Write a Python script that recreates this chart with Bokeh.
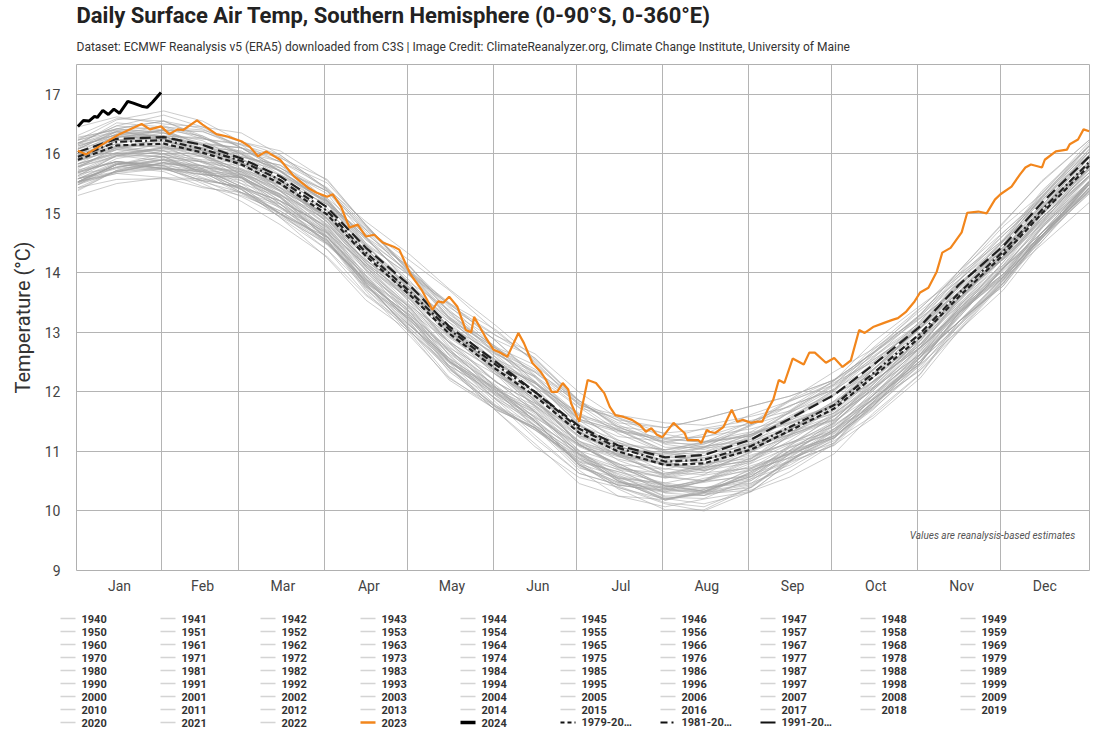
from bokeh.plotting import figure
from bokeh.layouts import column
from bokeh.models import Range1d, FixedTicker, Label, Title
from bokeh.core.properties import value
from bokeh.embed import file_html
from bokeh.resources import INLINE

title_text = "Daily Surface Air Temp, Southern Hemisphere (0-90°S, 0-360°E)"
subtitle_text = ("Dataset: ECMWF Reanalysis v5 (ERA5) downloaded from C3S | Image Credit: "
                 "ClimateReanalyzer.org, Climate Change Institute, University of Maine")
note_text = "Values are reanalysis-based estimates"

months = ["Jan", "Feb", "Mar", "Apr", "May", "Jun", "Jul", "Aug", "Sep", "Oct", "Nov", "Dec"]
month_mid = [16, 46, 75, 106, 136, 167, 197, 228, 259, 289, 320, 350]
month_start = [31, 59, 90, 120, 151, 181, 212, 243, 273, 304, 334]
y_ticks = [9, 10, 11, 12, 13, 14, 15, 16, 17]

# day-of-year sample points for the gray (historical) years
gray_days = [1, 15, 32, 46, 60, 74, 91, 105, 121, 135, 152, 166, 182, 196, 213, 227, 244, 258, 274, 288, 305, 319, 335, 349, 366]

y1940 = [15.53,15.85,15.75,15.55,15.45,15.20,14.60,13.77,13.06,12.49,12.01,11.52,10.77,10.39,10.20,10.31,10.64,10.94,11.26,11.74,12.52,13.33,13.98,14.58,15.51]
y1941 = [15.51,15.82,15.95,15.87,15.63,15.21,14.59,14.00,13.41,12.68,11.93,11.43,10.96,10.73,10.57,10.50,10.58,10.97,11.47,12.06,12.63,13.25,14.08,14.83,15.53]
y1942 = [15.70,15.87,15.75,15.70,15.60,15.16,14.51,13.89,13.33,12.68,12.06,11.51,10.77,10.43,10.35,10.50,10.71,10.96,11.23,11.76,12.58,13.28,14.08,14.80,15.48]
y1943 = [15.40,15.72,15.85,15.72,15.40,15.00,14.39,13.64,13.10,12.52,11.87,11.27,10.63,10.44,10.33,10.39,10.47,10.73,11.15,11.86,12.59,13.18,13.78,14.58,15.33]
y1944 = [15.71,15.99,15.95,15.67,15.43,15.21,14.79,14.03,13.24,12.51,12.03,11.73,11.01,10.55,10.37,10.55,10.68,10.90,11.34,12.02,12.75,13.38,13.95,14.61,15.48]
y1945 = [15.53,15.70,15.85,15.80,15.55,15.11,14.49,13.84,13.28,12.71,12.01,11.41,10.89,10.70,10.30,10.26,10.66,11.06,11.33,11.78,12.63,13.40,13.98,14.63,15.38]
y1946 = [15.58,15.84,15.75,15.55,15.28,14.95,14.49,13.86,13.22,12.42,11.72,11.37,10.87,10.54,10.21,10.12,10.32,10.83,11.30,11.81,12.37,13.06,13.88,14.68,15.43]
y1947 = [15.53,15.82,15.95,15.73,15.40,15.00,14.55,13.72,13.11,12.57,12.04,11.49,10.74,10.46,10.38,10.31,10.39,10.84,11.38,11.87,12.47,13.31,14.05,14.63,15.48]
y1948 = [15.58,15.77,15.92,15.70,15.35,14.98,14.60,13.94,13.16,12.41,11.74,11.39,10.92,10.51,10.18,10.36,10.69,10.89,11.14,11.82,12.62,13.18,13.83,14.68,15.53]
y1949 = [15.43,15.57,15.58,15.55,15.45,15.11,14.53,13.69,12.93,12.23,11.75,11.40,10.83,10.42,10.14,10.07,10.40,10.88,11.23,11.70,12.46,13.03,13.71,14.53,15.43]
y1950 = [15.38,15.72,15.77,15.50,15.20,14.81,14.27,13.62,13.06,12.40,11.68,11.13,10.46,10.25,10.07,10.20,10.33,10.57,10.96,11.64,12.30,13.18,13.90,14.48,15.18]
y1951 = [15.53,15.69,15.85,15.75,15.45,15.00,14.50,13.87,13.26,12.49,11.77,11.36,10.87,10.63,10.36,10.31,10.44,10.84,11.26,11.90,12.52,13.13,13.88,14.68,15.35]
y1952 = [15.70,15.87,15.80,15.58,15.42,15.16,14.69,13.84,13.11,12.51,12.06,11.66,10.89,10.50,10.20,10.33,10.71,11.01,11.25,11.76,12.58,13.36,13.93,14.58,15.48]
y1953 = [15.51,15.82,16.00,15.75,15.45,15.21,14.77,13.95,13.19,12.51,11.93,11.58,11.08,10.80,10.42,10.33,10.58,11.02,11.49,12.06,12.63,13.33,13.93,14.61,15.53]
y1954 = [15.51,15.67,15.60,15.43,15.35,15.04,14.53,13.81,13.03,12.25,11.70,11.40,10.80,10.37,10.02,10.02,10.40,10.86,11.18,11.60,12.29,13.13,13.93,14.53,15.38]
y1955 = [15.30,15.50,15.60,15.58,15.42,14.93,14.25,13.54,13.01,12.40,11.68,11.08,10.56,10.40,10.12,10.00,10.33,10.81,11.11,11.56,12.23,13.03,13.86,14.60,15.33]
y1956 = [15.48,15.79,15.70,15.45,15.30,15.04,14.55,13.74,12.98,12.20,11.70,11.40,10.68,10.25,10.19,10.29,10.35,10.66,11.13,11.80,12.36,13.01,13.83,14.58,15.43]
y1957 = [15.48,15.70,15.85,15.75,15.62,15.26,14.61,13.79,13.11,12.56,12.06,11.51,10.77,10.48,10.35,10.50,10.76,10.96,11.23,11.83,12.68,13.40,13.98,14.58,15.43]
y1958 = [15.68,15.87,15.80,15.72,15.65,15.37,14.73,14.12,13.41,12.62,11.95,11.60,11.11,10.77,10.39,10.52,10.90,11.14,11.34,11.95,12.74,13.30,13.96,14.78,15.53]
y1959 = [15.53,15.82,15.73,15.65,15.60,15.28,14.56,13.77,13.23,12.64,12.11,11.56,10.79,10.58,10.45,10.33,10.46,10.96,11.45,11.88,12.48,13.33,14.08,14.63,15.38]
y1960 = [15.68,15.87,15.75,15.65,15.60,15.16,14.49,13.89,13.38,12.61,11.86,11.51,10.99,10.53,10.20,10.30,10.61,11.08,11.38,11.76,12.48,13.33,14.10,14.68,15.53]
y1961 = [15.73,15.87,15.78,15.65,15.60,15.21,14.77,14.07,13.29,12.53,12.03,11.63,11.11,10.75,10.42,10.33,10.58,11.02,11.49,12.06,12.73,13.33,13.91,14.63,15.53]
y1962 = [15.66,15.77,15.90,15.80,15.50,15.08,14.61,13.94,13.33,12.56,11.88,11.39,10.84,10.66,10.47,10.38,10.51,10.91,11.38,11.98,12.58,13.18,13.93,14.76,15.48]
y1963 = [15.63,15.97,15.95,15.67,15.55,15.33,14.75,13.90,13.19,12.68,12.18,11.66,10.96,10.50,10.32,10.50,10.80,11.07,11.31,11.94,12.71,13.45,14.08,14.68,15.41]
y1964 = [15.48,15.84,15.85,15.60,15.40,14.93,14.39,13.76,13.20,12.54,11.82,11.22,10.63,10.44,10.31,10.36,10.57,10.83,11.10,11.76,12.57,13.18,13.78,14.63,15.50]
y1965 = [15.53,15.82,15.75,15.70,15.62,15.26,14.56,13.79,13.23,12.71,12.08,11.51,10.77,10.48,10.40,10.48,10.61,10.84,11.23,11.83,12.58,13.40,14.08,14.68,15.40]
y1966 = [15.58,15.75,15.82,15.80,15.67,15.29,14.62,13.83,13.29,12.73,11.98,11.48,11.01,10.80,10.42,10.33,10.63,11.10,11.51,11.94,12.51,13.25,14.08,14.85,15.61]
y1967 = [15.53,15.82,15.90,15.87,15.60,15.11,14.67,14.05,13.34,12.51,11.98,11.70,10.96,10.55,10.47,10.60,10.73,10.97,11.27,11.89,12.68,13.43,14.03,14.61,15.48]
y1968 = [15.58,15.87,15.80,15.53,15.35,15.15,14.65,13.82,13.01,12.37,11.89,11.54,10.94,10.51,10.18,10.31,10.66,10.99,11.26,11.72,12.40,13.18,13.93,14.75,15.53]
y1969 = [15.83,16.02,16.17,15.98,15.65,15.43,14.97,14.10,13.34,12.84,12.34,11.74,11.09,10.91,10.78,10.74,10.84,11.12,11.59,12.02,12.75,13.56,14.33,14.93,15.68]
y1970 = [15.68,15.97,15.88,15.77,15.70,15.27,14.67,14.13,13.57,12.77,12.07,11.77,11.18,10.74,10.41,10.51,10.87,11.25,11.52,12.16,12.79,13.35,13.98,14.78,15.63]
y1971 = [15.43,15.72,15.90,15.70,15.35,15.10,14.67,13.82,13.01,12.44,11.99,11.44,10.72,10.56,10.43,10.39,10.54,10.77,11.21,11.94,12.62,13.18,13.81,14.63,15.38]
y1972 = [15.63,15.97,16.12,15.95,15.60,15.32,14.69,13.96,13.42,12.87,12.17,11.67,10.95,10.69,10.56,10.71,10.92,11.15,11.42,11.94,12.64,13.43,14.25,14.93,15.63]
y1973 = [15.75,16.12,16.05,15.85,15.75,15.51,14.91,14.16,13.45,12.91,12.39,11.98,11.29,10.85,10.58,10.73,11.06,11.33,11.60,12.08,12.85,13.63,14.28,14.85,15.73]
y1974 = [15.53,15.67,15.75,15.73,15.45,14.98,14.47,13.87,13.26,12.44,11.74,11.36,10.82,10.66,10.38,10.26,10.42,10.84,11.34,11.82,12.44,13.11,13.88,14.68,15.55]
y1975 = [15.58,15.70,15.75,15.70,15.50,15.28,14.71,13.89,13.13,12.44,11.96,11.66,11.01,10.58,10.25,10.26,10.51,10.96,11.43,11.88,12.48,13.28,14.08,14.63,15.36]
y1976 = [15.58,15.77,15.90,15.65,15.33,15.00,14.60,13.92,13.16,12.34,11.77,11.44,10.94,10.61,10.23,10.21,10.54,11.01,11.36,11.87,12.52,13.11,13.83,14.63,15.51]
y1977 = [15.83,16.14,16.13,15.85,15.58,15.30,14.90,14.27,13.49,12.74,12.29,11.89,11.12,10.71,10.63,10.78,10.94,11.14,11.47,12.12,12.92,13.56,14.13,14.76,15.60]
y1978 = [15.88,16.07,16.05,15.78,15.65,15.48,14.85,14.05,13.44,12.96,12.29,11.67,11.17,10.96,10.58,10.51,10.84,11.27,11.71,12.17,12.75,13.38,14.18,15.00,15.73]
y1979 = [15.78,15.97,16.10,16.07,15.85,15.38,14.81,14.21,13.70,13.03,12.31,11.76,11.12,10.93,10.80,10.73,10.84,11.18,11.65,12.28,12.97,13.58,14.23,14.81,15.63]
y1980 = [15.98,16.24,16.15,15.95,15.68,15.39,14.97,14.38,13.74,12.98,12.28,11.93,11.43,11.10,10.77,10.68,10.88,11.35,11.82,12.29,12.81,13.46,14.28,15.08,15.83]
y1981 = [15.88,16.17,16.30,16.08,15.75,15.39,14.97,14.18,13.57,13.06,12.53,11.98,11.23,10.95,10.87,10.80,10.88,11.30,11.84,12.29,12.86,13.66,14.40,14.98,15.83]
y1982 = [15.88,16.07,16.22,16.00,15.65,15.31,14.96,14.33,13.55,12.83,12.16,11.81,11.34,10.93,10.60,10.78,11.11,11.28,11.53,12.18,12.95,13.48,14.13,14.98,15.83]
y1983 = [15.98,16.12,16.13,16.10,16.00,15.72,15.19,14.41,13.65,13.00,12.52,12.17,11.60,11.19,10.91,10.84,11.17,11.60,11.95,12.36,13.07,13.58,14.26,15.08,15.98]
y1984 = [15.78,16.10,16.00,15.80,15.70,15.48,14.90,14.10,13.39,12.84,12.36,11.87,11.12,10.74,10.55,10.66,10.99,11.27,11.59,12.04,12.80,13.58,14.23,14.83,15.76]
y1985 = [15.61,15.92,16.05,15.97,15.73,15.32,14.71,14.13,13.54,12.82,12.07,11.57,11.10,10.87,10.71,10.64,10.72,11.10,11.60,12.18,12.74,13.35,14.18,14.93,15.63]
y1986 = [15.95,16.12,16.00,15.95,15.85,15.43,14.81,14.21,13.65,13.03,12.41,11.86,11.12,10.78,10.70,10.85,11.06,11.28,11.55,12.06,12.85,13.53,14.33,15.05,15.73]
y1987 = [15.90,16.22,16.35,16.22,15.90,15.55,14.99,14.29,13.75,13.22,12.57,11.97,11.33,11.14,11.03,11.09,11.17,11.38,11.80,12.46,13.14,13.68,14.28,15.08,15.83]
y1988 = [16.01,16.29,16.25,15.97,15.73,15.54,15.15,14.42,13.63,12.93,12.45,12.15,11.43,10.97,10.79,10.97,11.10,11.29,11.73,12.38,13.08,13.68,14.25,14.91,15.78]
y1989 = [15.78,15.95,16.10,16.05,15.80,15.38,14.79,14.16,13.60,13.06,12.36,11.76,11.24,11.05,10.65,10.61,11.01,11.38,11.65,12.08,12.90,13.65,14.23,14.88,15.63]
y1990 = [16.03,16.34,16.25,16.00,15.85,15.65,15.21,14.46,13.70,12.97,12.47,12.17,11.45,11.02,10.96,11.06,11.12,11.38,11.85,12.46,12.97,13.56,14.38,15.13,15.98]
y1991 = [15.88,16.10,16.25,16.15,16.02,15.70,15.09,14.31,13.63,13.12,12.62,12.07,11.33,11.04,10.91,11.06,11.32,11.48,11.75,12.31,13.12,13.80,14.38,14.98,15.83]
y1992 = [15.83,16.02,15.95,15.87,15.80,15.53,14.91,14.31,13.60,12.83,12.16,11.81,11.32,10.98,10.60,10.73,11.11,11.33,11.53,12.13,12.90,13.45,14.11,14.93,15.68]
y1993 = [15.78,16.07,15.98,15.90,15.85,15.55,14.86,14.09,13.55,12.99,12.46,11.91,11.14,10.93,10.80,10.68,10.81,11.28,11.77,12.18,12.75,13.58,14.33,14.88,15.63]
y1994 = [15.88,16.22,16.27,16.00,15.70,15.37,14.87,14.28,13.72,13.10,12.38,11.83,11.16,10.95,10.77,10.90,11.03,11.23,11.62,12.24,12.86,13.68,14.40,14.98,15.68]
y1995 = [15.93,16.09,16.25,16.15,15.85,15.44,14.98,14.39,13.78,13.05,12.33,11.92,11.43,11.19,10.92,10.87,11.00,11.36,11.78,12.38,12.96,13.53,14.28,15.08,15.75]
y1996 = [16.00,16.17,16.10,15.88,15.72,15.49,15.05,14.23,13.50,12.93,12.48,12.08,11.31,10.92,10.62,10.75,11.13,11.40,11.64,12.12,12.91,13.66,14.23,14.88,15.78]
y1997 = [15.91,16.22,16.40,16.15,15.85,15.65,15.25,14.47,13.71,13.07,12.49,12.14,11.64,11.36,10.98,10.89,11.14,11.54,12.01,12.54,13.07,13.73,14.33,15.01,15.93]
y1998 = [16.26,16.42,16.35,16.18,16.10,15.87,15.43,14.79,14.01,13.30,12.75,12.45,11.85,11.42,11.07,11.07,11.45,11.84,12.16,12.50,13.12,13.88,14.68,15.28,16.13]
y1999 = [15.80,16.00,16.10,16.08,15.92,15.49,14.85,14.20,13.67,13.10,12.38,11.78,11.26,11.10,10.82,10.70,11.03,11.47,11.77,12.16,12.79,13.53,14.36,15.10,15.83]
y2000 = [15.83,16.00,16.07,16.05,15.92,15.57,14.92,14.16,13.62,13.08,12.33,11.83,11.36,11.15,10.77,10.68,10.98,11.43,11.84,12.24,12.79,13.50,14.33,15.10,15.86]
y2001 = [15.93,16.22,16.30,16.27,16.00,15.55,15.15,14.57,13.86,13.07,12.54,12.26,11.52,11.11,11.03,11.16,11.29,11.49,11.79,12.37,13.12,13.83,14.43,15.01,15.88]
y2002 = [16.18,16.47,16.40,16.13,15.95,15.81,15.37,14.60,13.79,13.21,12.73,12.38,11.78,11.35,11.02,11.15,11.50,11.77,12.04,12.44,13.06,13.78,14.53,15.35,16.13]
y2003 = [16.13,16.32,16.47,16.28,15.95,15.76,15.33,14.49,13.73,13.26,12.76,12.16,11.51,11.33,11.20,11.16,11.26,11.51,11.98,12.38,13.08,13.86,14.63,15.23,15.98]
y2004 = [16.13,16.32,16.20,16.10,16.05,15.65,15.03,14.47,13.96,13.24,12.49,12.14,11.62,11.16,10.83,10.93,11.24,11.66,11.96,12.30,12.97,13.78,14.55,15.13,15.98]
y2005 = [16.23,16.37,16.28,16.15,16.10,15.76,15.37,14.72,13.94,13.23,12.73,12.33,11.81,11.45,11.12,11.03,11.28,11.67,12.14,12.66,13.28,13.83,14.41,15.13,16.03]
y2006 = [16.16,16.27,16.40,16.30,16.00,15.63,15.21,14.59,13.98,13.26,12.58,12.09,11.54,11.36,11.17,11.08,11.21,11.56,12.03,12.58,13.13,13.68,14.43,15.26,15.98]
y2007 = [15.98,16.32,16.30,16.02,15.90,15.72,15.17,14.36,13.65,13.17,12.67,12.15,11.45,10.99,10.81,10.99,11.29,11.53,11.77,12.36,13.10,13.80,14.43,15.03,15.76]
y2008 = [15.93,16.29,16.30,16.05,15.85,15.42,14.93,14.34,13.78,13.17,12.45,11.85,11.26,11.07,10.94,10.99,11.20,11.41,11.68,12.30,13.06,13.63,14.23,15.08,15.95]
y2009 = [16.08,16.37,16.30,16.25,16.17,15.86,15.22,14.50,13.94,13.48,12.85,12.28,11.54,11.25,11.17,11.25,11.38,11.55,11.94,12.49,13.18,13.95,14.63,15.23,15.95]
y2010 = [16.23,16.42,16.55,16.30,15.98,15.72,15.38,14.77,14.01,13.25,12.68,12.35,11.85,11.52,11.14,11.12,11.45,11.86,12.21,12.65,13.24,13.76,14.48,15.28,16.16]
y2011 = [16.08,16.39,16.38,16.10,15.83,15.57,15.20,14.59,13.81,13.09,12.64,12.24,11.47,11.06,10.98,11.13,11.29,11.46,11.79,12.42,13.19,13.81,14.38,15.01,15.85]
y2012 = [16.18,16.37,16.35,16.08,15.95,15.81,15.21,14.44,13.83,13.38,12.71,12.09,11.59,11.38,11.00,10.93,11.26,11.66,12.10,12.53,13.08,13.68,14.48,15.30,16.03]
y2013 = [16.08,16.27,16.40,16.37,16.15,15.71,15.17,14.60,14.09,13.45,12.73,12.18,11.54,11.35,11.22,11.15,11.26,11.57,12.04,12.64,13.30,13.88,14.53,15.11,15.93]
y2014 = [16.08,16.37,16.28,16.17,16.10,15.71,15.15,14.65,14.09,13.33,12.63,12.33,11.74,11.30,10.97,11.07,11.43,11.77,12.04,12.64,13.23,13.75,14.38,15.18,16.03]
y2015 = [16.18,16.47,16.65,16.45,16.10,15.93,15.57,14.80,13.99,13.49,13.04,12.49,11.77,11.61,11.48,11.44,11.59,11.75,12.19,12.84,13.45,13.93,14.56,15.38,16.13]
y2016 = [16.23,16.57,16.72,16.55,16.20,15.98,15.41,14.74,14.20,13.71,13.01,12.51,11.79,11.53,11.40,11.55,11.76,11.93,12.20,12.66,13.30,14.03,14.85,15.53,16.23]
y2017 = [16.15,16.52,16.45,16.25,16.15,15.95,15.39,14.68,13.97,13.47,12.95,12.54,11.85,11.41,11.14,11.29,11.62,11.85,12.12,12.56,13.29,14.03,14.68,15.25,16.13]
y2018 = [16.18,16.32,16.40,16.38,16.10,15.70,15.25,14.72,14.11,13.35,12.65,12.27,11.73,11.57,11.29,11.17,11.33,11.69,12.19,12.60,13.16,13.76,14.53,15.33,16.20]
y2019 = [16.28,16.40,16.45,16.40,16.20,16.05,15.55,14.80,14.04,13.42,12.94,12.64,11.99,11.56,11.23,11.24,11.49,11.87,12.34,12.72,13.25,13.98,14.78,15.33,16.06]
y2020 = [16.45,16.62,16.50,16.45,16.35,15.98,15.41,14.86,14.30,13.73,13.11,12.56,11.82,11.48,11.40,11.55,11.76,11.93,12.20,12.66,13.40,14.03,14.83,15.55,16.23]
y2021 = [16.10,16.42,16.55,16.42,16.10,15.77,15.23,14.55,14.01,13.50,12.85,12.25,11.61,11.42,11.31,11.37,11.45,11.64,12.06,12.70,13.36,13.88,14.48,15.28,16.03]
y2022 = [16.31,16.59,16.55,16.27,16.03,15.87,15.51,14.81,14.02,13.35,12.87,12.57,11.85,11.39,11.21,11.39,11.52,11.68,12.12,12.74,13.41,13.98,14.55,15.21,16.08]

# 2023 (orange)
d2023 = [1, 4, 16, 24, 27, 31, 34, 37, 39, 44, 46, 51, 55, 60, 63, 66, 69, 74, 79, 84, 87, 91, 93, 96, 99,
         102, 105, 108, 111, 115, 117, 121, 125, 129, 131, 133, 135, 138, 141, 143, 144, 148, 151, 153, 156,
         160, 162, 165, 168, 170, 172, 174, 176, 178, 179, 182, 183, 185, 188, 191, 193, 195, 198, 201, 204,
         206, 208, 210, 212, 216, 218, 220, 221, 225, 226, 228, 229, 231, 234, 237, 239, 241, 244, 246, 248,
         250, 252, 254, 256, 259, 263, 265, 267, 271, 274, 277, 280, 283, 285, 288, 292, 295, 297, 300, 303,
         305, 308, 311, 313, 316, 320, 322, 326, 329, 332, 334, 338, 341, 343, 345, 349, 350, 354, 358, 359,
         362, 364, 366]
t2023 = [16.05, 15.99, 16.33, 16.50, 16.41, 16.46, 16.33, 16.41, 16.40, 16.56, 16.49, 16.33, 16.29, 16.21, 16.12,
         15.96, 16.04, 15.90, 15.62, 15.43, 15.35, 15.28, 15.32, 15.11, 14.76, 14.81, 14.61, 14.64, 14.51, 14.44,
         14.39, 13.98, 13.72, 13.38, 13.52, 13.50, 13.60, 13.43, 13.04, 13.00, 13.26, 12.93, 12.71, 12.67, 12.59,
         12.99, 12.82, 12.49, 12.34, 12.20, 12.00, 12.00, 12.15, 12.04, 11.81, 11.50, 11.75, 12.20, 12.15, 11.98,
         11.75, 11.61, 11.58, 11.53, 11.44, 11.33, 11.39, 11.28, 11.24, 11.48, 11.39, 11.31, 11.19, 11.19, 11.14,
         11.36, 11.33, 11.31, 11.41, 11.70, 11.50, 11.53, 11.48, 11.50, 11.50, 11.70, 11.87, 12.20, 12.15, 12.56,
         12.46, 12.66, 12.66, 12.49, 12.57, 12.42, 12.53, 13.04, 12.99, 13.09, 13.16, 13.21, 13.24, 13.35, 13.52,
         13.67, 13.75, 14.02, 14.34, 14.42, 14.68, 15.01, 15.03, 15.00, 15.23, 15.32, 15.45, 15.65, 15.77, 15.82,
         15.77, 15.90, 16.04, 16.07, 16.16, 16.24, 16.41, 16.38]

# 2024 (black), January only
d2024 = [1, 3, 5, 7, 8, 10, 12, 14, 16, 19, 21, 24, 26, 28, 31]
t2024 = [16.46, 16.56, 16.55, 16.63, 16.61, 16.73, 16.66, 16.75, 16.68, 16.88, 16.85, 16.80, 16.78, 16.87, 17.03]

# climatological means
mean_days = gray_days
mean_1979_2000 = [15.90,16.14,16.17,16.02,15.82,15.50,14.98,14.28,13.62,12.98,12.38,11.93,11.31,11.00,10.77,10.80,11.03,11.35,11.72,12.25,12.92,13.60,14.30,15.00,15.80]
mean_1981_2010 = [15.95,16.20,16.23,16.08,15.88,15.56,15.04,14.34,13.68,13.05,12.45,12.00,11.38,11.06,10.83,10.86,11.09,11.41,11.78,12.31,12.98,13.66,14.36,15.06,15.86]
mean_1991_2020 = [16.03,16.25,16.28,16.15,15.92,15.62,15.10,14.42,13.78,13.10,12.50,12.00,11.42,11.10,10.90,10.94,11.20,11.55,11.95,12.45,13.10,13.80,14.45,15.18,15.95]

legend_labels = [str(y) for y in range(1940, 2025)] + ["1979-20…", "1981-20…", "1991-20…"]

FONT = "Roboto"
ORANGE = "#f2861c"
GRAY = "#a2a2a2"

p = figure(frame_width=1014, frame_height=506,
           x_range=Range1d(0.5, 366.5), y_range=Range1d(9, 17.5),
           output_backend="svg", toolbar_location=None, title_location=None,
           min_border_left=76, min_border_right=0, min_border_top=64, min_border_bottom=32)
p.frame_align = False
p.background_fill_color = "white"
p.border_fill_color = "white"
p.outline_line_color = "#b0b0b0"
p.outline_line_width = 1

sub = Title(text=subtitle_text, align="left", text_font=FONT, text_font_size="12px",
            text_font_style="normal", text_color="#333333", standoff=21)
p.add_layout(sub, "above")
main = Title(text=title_text, align="left", text_font=FONT, text_font_size="22px",
             text_font_style="bold", text_color="#222222", standoff=0)
p.add_layout(main, "above")

# axes
p.xaxis.ticker = FixedTicker(ticks=month_mid)
p.xaxis.major_label_overrides = {m: name for m, name in zip(month_mid, months)}
p.yaxis.ticker = FixedTicker(ticks=y_ticks)
for ax in (p.xaxis[0], p.yaxis[0]):
    ax.axis_line_color = None
    ax.major_tick_line_color = None
    ax.minor_tick_line_color = None
    ax.major_tick_out = 0
    ax.major_tick_in = 0
    ax.minor_tick_out = 0
    ax.major_label_text_font = FONT
    ax.major_label_text_font_size = "14px"
    ax.major_label_text_color = "#444444"
p.xaxis.major_label_standoff = 7
p.yaxis.major_label_standoff = 16
p.yaxis.axis_label = "Temperature (°C)"
p.yaxis.axis_label_text_font = FONT
p.yaxis.axis_label_text_font_size = "20px"
p.yaxis.axis_label_text_font_style = "normal"
p.yaxis.axis_label_text_color = "#333333"
p.yaxis.axis_label_standoff = 7

p.xgrid.ticker = FixedTicker(ticks=month_start)
p.xgrid.grid_line_color = "#b4b4b4"
p.ygrid.grid_line_color = "#b4b4b4"
p.xgrid.grid_line_width = 1
p.ygrid.grid_line_width = 1

for yr in range(1940, 2023):
    vals = globals()[f"y{yr}"]
    p.line(gray_days, vals, line_color=GRAY, line_alpha=0.55, line_width=1)

# means drawn in the plot
p.line(mean_days, mean_1979_2000, line_color="#222222", line_width=2.2, line_dash="5 3")
p.line(mean_days, mean_1981_2010, line_color="#222222", line_width=2.2, line_dash="7 3 2 3")
p.line(mean_days, mean_1991_2020, line_color="#222222", line_width=2.2, line_dash="11 5")

p.line(d2023, t2023, line_color=ORANGE, line_width=2.2)
p.line(d2024, t2024, line_color="black", line_width=3)

note = Label(x=361, y=9.58, text=note_text, text_font=FONT, text_font_size="10px",
             text_font_style="italic", text_color="#555555", text_align="right",
             text_baseline="middle")
p.add_layout(note)

# ---- legend panel: a pixel-scaled canvas below the chart ----
LW, LH = 1090, 130
pl = figure(frame_width=LW, frame_height=LH, x_range=Range1d(0, LW), y_range=Range1d(0, LH),
            output_backend="svg", toolbar_location=None, title_location=None,
            x_axis_location=None, y_axis_location=None,
            min_border_left=0, min_border_right=0, min_border_top=0, min_border_bottom=0)
pl.frame_align = False
pl.outline_line_color = None
pl.xgrid.visible = False
pl.ygrid.visible = False
pl.background_fill_color = "white"
pl.border_fill_color = "white"

COL0, COLW, ROW0, ROWH, GLYPHW, TXTOFF = 60, 100, 114, 13, 15, 21
pos = [(COL0 + COLW * (i % 10), ROW0 - ROWH * (i // 10)) for i in range(len(legend_labels))]

def seg(idx, **kw):
    xs0 = [pos[i][0] for i in idx]
    ys = [pos[i][1] for i in idx]
    pl.segment(x0=xs0, y0=ys, x1=[x + GLYPHW for x in xs0], y1=ys, **kw)

n_gray = 2023 - 1940
seg(list(range(n_gray)), line_color="#d4d4d4", line_width=1.5)
seg([n_gray], line_color=ORANGE, line_width=2.5)
seg([n_gray + 1], line_color="black", line_width=3.5)
seg([n_gray + 2], line_color="#111111", line_width=2, line_dash="4 3")
seg([n_gray + 3], line_color="#111111", line_width=2, line_dash="7 4 2 4")
seg([n_gray + 4], line_color="#111111", line_width=2)

pl.text(x=[q[0] + TXTOFF for q in pos], y=[q[1] for q in pos], text=legend_labels,
        text_font=value(FONT), text_font_size="11px", text_font_style="bold",
        text_color="#333333", text_baseline="middle", text_align="left")

layout = column(p, pl, spacing=0)
open("out.html", "w").write(file_html(layout, INLINE))
